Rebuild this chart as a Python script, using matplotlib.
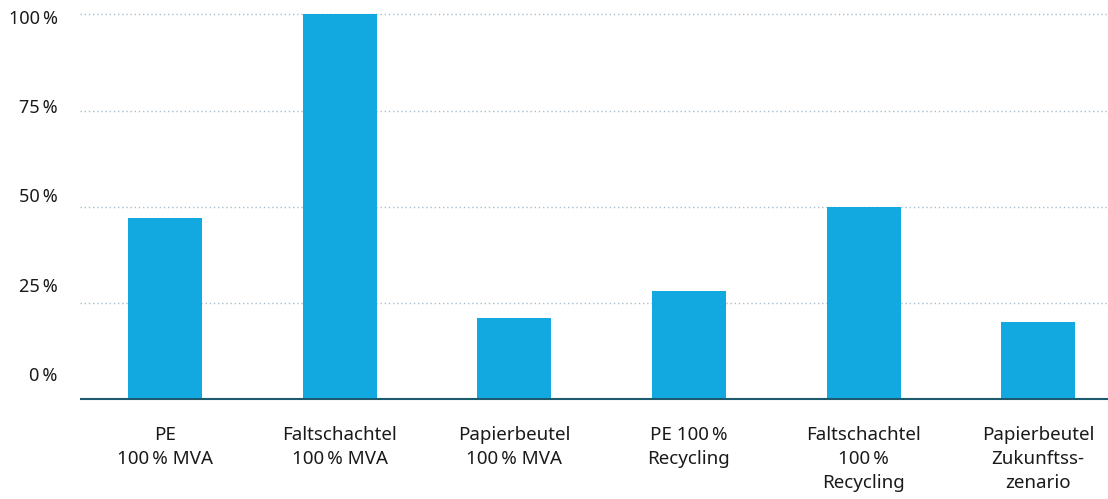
import matplotlib.pyplot as plt

categories = [
    "PE\n100\u2009% MVA",
    "Faltschachtel\n100\u2009% MVA",
    "Papierbeutel\n100\u2009% MVA",
    "PE 100\u2009%\nRecycling",
    "Faltschachtel\n100\u2009%\nRecycling",
    "Papierbeutel\nZukunftss-\nzenario",
]
values = [47, 100, 21, 28, 50, 20]
y_ticks = [0, 25, 50, 75, 100]
y_labels = ["0\u2009%", "25\u2009%", "50\u2009%", "75\u2009%", "100\u2009%"]

BAR = "#12a9e0"
BASE = "#1c5a6e"
GRID = "#a9bfcf"

plt.rcParams["font.family"] = ["Noto Sans", "DejaVu Sans"]

fig = plt.figure(figsize=(11.08, 4.99), dpi=100)
ax = fig.add_axes([80 / 1108, 1 - 402 / 499, 1 - 80 / 1108, 392 / 499])

x = list(range(len(categories)))
ax.bar(x, values, width=0.424, color=BAR, zorder=2)

ax.set_xlim(-0.487, 5.40)
ylo, yhi = -0.78, 101.17
ax.set_ylim(ylo, yhi)

# dotted grid lines and solid zero line
for t in y_ticks[1:]:
    ax.axhline(t, color=GRID, lw=1, ls=(0, (1, 2)), zorder=1)
ax.axhline(0, color=BASE, lw=1.5, zorder=3)

for s in ax.spines.values():
    s.set_visible(False)
ax.set_xticks(x)
ax.set_xticklabels(categories, fontsize=13.5, linespacing=1.45, color="#1a1a1a")
ax.tick_params(axis="x", length=0, pad=17)
ax.set_yticks([])

# percentage labels sit on their own, slightly compressed scale
def to_pixel(v):
    return 399 - v * 3.845

def label_value(p):
    return (374 - p) / 3.57

lab = ax.twinx()
lab.set_ylim(label_value(to_pixel(ylo)), label_value(to_pixel(yhi)))
lab.yaxis.set_ticks_position("left")
lab.set_yticks(y_ticks)
lab.set_yticklabels(y_labels, fontsize=13, color="#1a1a1a")
lab.tick_params(axis="y", length=0, pad=16)
for s in lab.spines.values():
    s.set_visible(False)

fig.savefig("out.png", dpi=100)
